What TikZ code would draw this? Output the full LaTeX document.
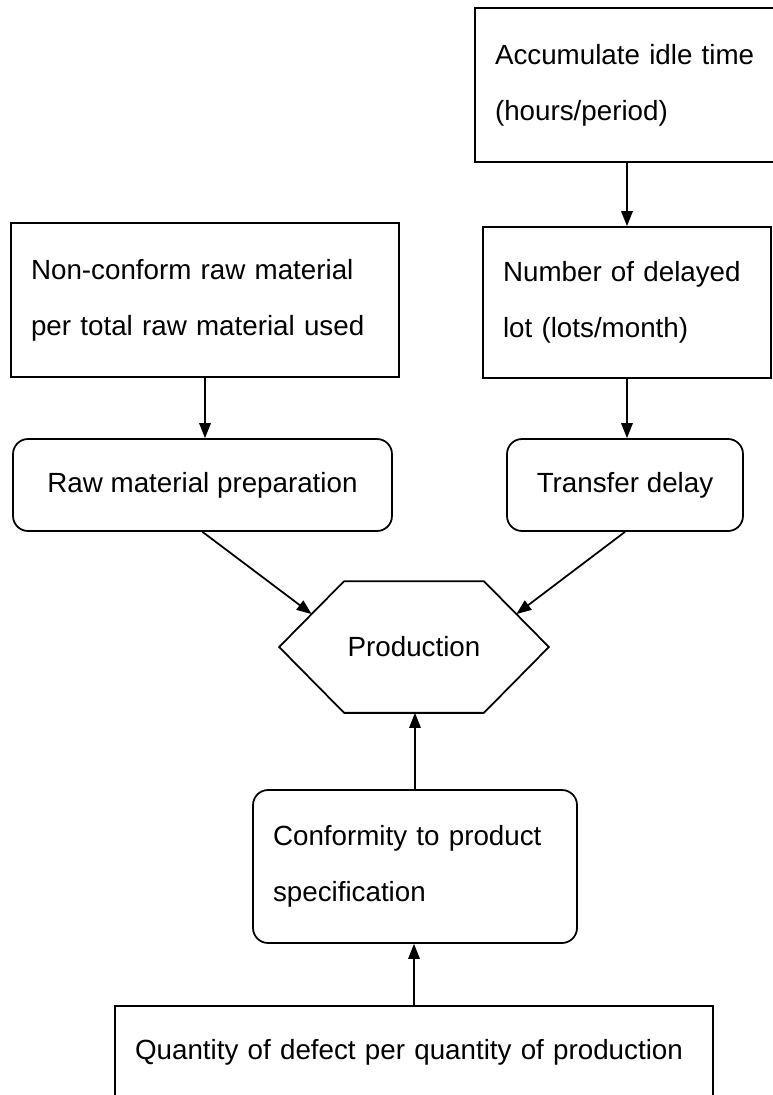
\documentclass[tikz,border=0pt]{standalone}
\usepackage{fontspec}
\setmainfont{Liberation Sans}
\usetikzlibrary{arrows.meta,calc}

\begin{document}
\begin{tikzpicture}[x=0.02cm,y=-0.02cm,line width=1pt,>={Triangle[length=8.5pt,width=6.5pt]},
box/.style={draw,inner xsep=.4cm,inner ysep=0pt,font=\fontsize{15.8}{32}\selectfont,align=left},
rbox/.style={box,rounded corners=.3cm,align=center}]
\path[use as bounding box,clip](0,0)rectangle(773,1095);
% measures
\node[box,text width=5.2cm,minimum height=3.08cm](acc)at(625,85){Accumulate idle time\\(hours/period)};
\node[box,text width=4.96cm,minimum height=3.02cm](num)at(627,302.5){Number of delayed\\lot (lots/month)};
\node[box,text width=6.96cm,minimum height=3.08cm](nonconf)at(205,300){Non-conform raw material\\per total raw material used};
\node[box,text width=11.16cm,minimum height=1.84cm](qty)at(414,1052){Quantity of defect per quantity of production};
% factors
\node[rbox,minimum width=7.58cm,minimum height=1.84cm](rawprep)at(202.5,485){Raw material preparation};
\node[rbox,minimum width=4.72cm,minimum height=1.84cm](transfer)at(625,485){Transfer delay};
\node[rbox,align=left,text width=5.68cm,minimum height=3.06cm](conf)at(415,866.5){Conformity to product\\specification};
% process
\node[font=\fontsize{15.8}{32}\selectfont,inner sep=0pt,minimum width=5.36cm,minimum height=2.6cm](prod)at(414,647){Production};
\draw(prod.west)--([xshift=1.3cm]prod.north west)--([xshift=-1.3cm]prod.north east)--(prod.east)--([xshift=-1.3cm]prod.south east)--([xshift=1.3cm]prod.south west)--cycle;
\coordinate(hl)at($(prod.west)!.5!([xshift=1.3cm]prod.north west)$);\coordinate(hr)at($(prod.east)!.5!([xshift=-1.3cm]prod.north east)$);
\draw[->](acc.south-|num.north)--(num.north);\draw[->](num.south)--(num.south|-transfer.north);\draw[->](nonconf.south)--(nonconf.south|-rawprep.north);
\draw[->](rawprep.south)--(hl);\draw[->](transfer.south)--(hr);
\draw[->](conf.north)--(conf.north|-prod.south);\draw[->](qty.north)--(qty.north|-conf.south);
\end{tikzpicture}
\end{document}
